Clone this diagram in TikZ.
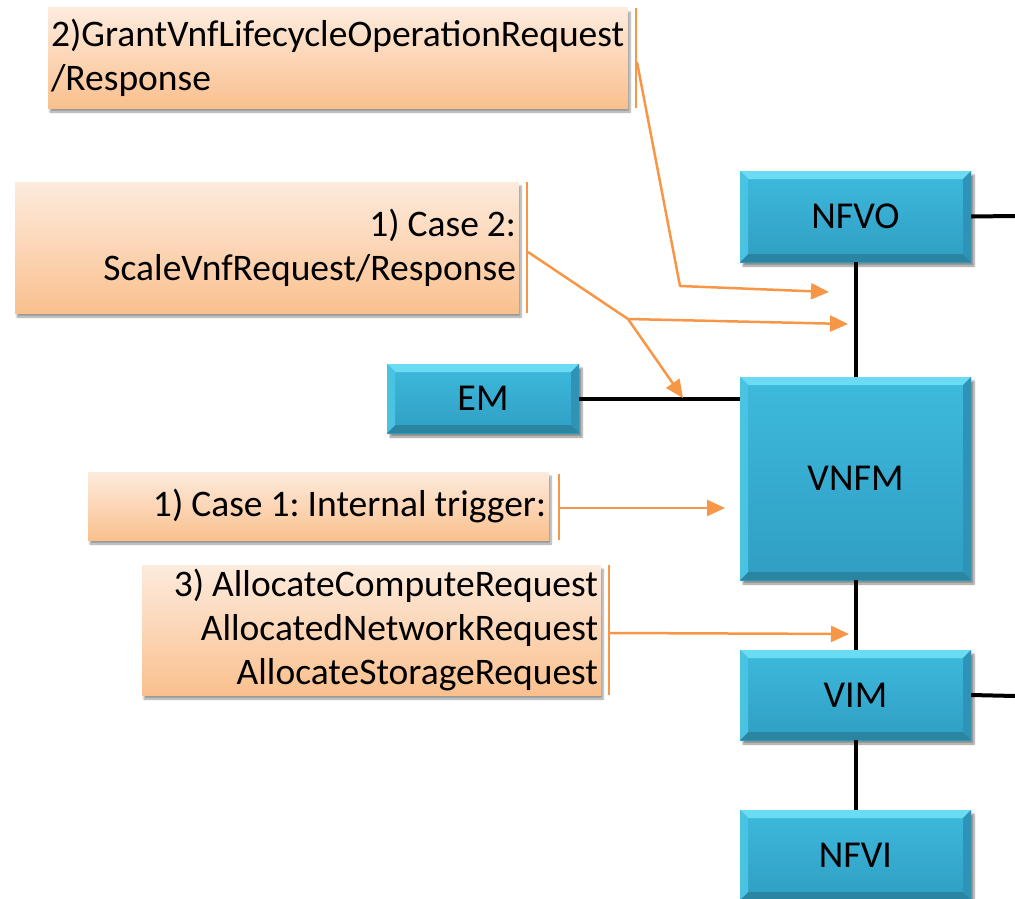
\documentclass[tikz,border=0pt]{standalone}
\usepackage{fontspec}
\setmainfont{Carlito}
\usetikzlibrary{arrows.meta,shadows.blur,calc}

\definecolor{orangec}{HTML}{F79646}
\definecolor{peachtop}{HTML}{FDEBDD}
\definecolor{peachbot}{HTML}{FAC08E}
\definecolor{facetop}{HTML}{3DBADD}
\definecolor{facebot}{HTML}{309EC3}
\definecolor{bevtop}{HTML}{6ADBF3}
\definecolor{bevleft}{HTML}{4AC3E2}
\definecolor{bevright}{HTML}{2F93B5}
\definecolor{bevbot}{HTML}{2A85A3}

% uniform word spacing in the notes
\newcommand\tightwords{\frenchspacing\spaceskip8pt plus 0pt minus 0pt\relax}

\tikzset{
  nfbox/.style={rectangle, inner sep=0pt, top color=facetop, bottom color=facebot,
    font=\fontsize{38}{44}\selectfont,
    blur shadow={shadow xshift=3pt, shadow yshift=-4pt, shadow blur steps=6, shadow opacity=45},
    path picture={
      \coordinate (bsw) at (path picture bounding box.south west);
      \coordinate (bne) at (path picture bounding box.north east);
      \coordinate (bnw) at (path picture bounding box.north west);
      \coordinate (bse) at (path picture bounding box.south east);
      \fill[bevtop] (bnw) -- (bne) -- ([shift={(-8pt,-8pt)}]bne) -- ([shift={(8pt,-8pt)}]bnw) -- cycle;
      \fill[bevbot] (bsw) -- (bse) -- ([shift={(-8pt,8pt)}]bse) -- ([shift={(8pt,8pt)}]bsw) -- cycle;
      \fill[bevleft] (bsw) -- (bnw) -- ([shift={(8pt,-8pt)}]bnw) -- ([shift={(8pt,8pt)}]bsw) -- cycle;
      \fill[bevright] (bse) -- (bne) -- ([shift={(-8pt,-8pt)}]bne) -- ([shift={(-8pt,8pt)}]bse) -- cycle;
    }},
  note/.style={rectangle, inner xsep=3pt, inner ysep=0pt, top color=peachtop, bottom color=peachbot,
    font=\fontsize{37.5}{44}\selectfont, execute at begin node=\tightwords,
    blur shadow={shadow xshift=2pt, shadow yshift=-4pt, shadow blur steps=6, shadow opacity=40}},
  bar/.style={draw=orangec, line width=2pt},
  flow/.style={draw=orangec, line width=2.5pt, line join=round, -{Triangle[length=18pt,width=16pt]}},
  link/.style={draw=black, line width=4pt}
}

\begin{document}
\begin{tikzpicture}[x=1pt,y=-1pt]
\useasboundingbox (0,0) rectangle (1015,899);

% network elements
\node[nfbox, minimum width=231pt, minimum height=91pt] (nfvo) at (855.5,216.5) {NFVO};
\node[nfbox, minimum width=192pt, minimum height=69pt] (em) at (483,398.5) {EM};
\node[nfbox, minimum width=231pt, minimum height=203pt] (vnfm) at (855.5,478.5) {VNFM};
\node[nfbox, minimum width=231pt, minimum height=90pt] (vim) at (855.5,695) {VIM};
\node[nfbox, minimum width=231pt, minimum height=90pt] (nfvi) at (855.5,855) {NFVI};

% reference-point links
\coordinate (nfvoR) at (1015,216);
\coordinate (vimR) at (1015,696);
\draw[link] (nfvo.east) -- (nfvoR);
\draw[link] (vim.east) -- (vimR);
\draw[link] (nfvo.south) -- (vnfm.north);
\draw[link] (vnfm.south) -- (vim.north);
\draw[link] (vim.south) -- (nfvi.north);
\draw[link] (em.east) -- (em.east -| vnfm.west);

% message notes
\node[note, minimum width=580pt, minimum height=100pt, text width=574pt, align=left] (n1) at (338,58)
  {2)GrantVnfLifecycleOperationRequest\\/Response};
\node[note, minimum width=504pt, minimum height=131pt, text width=498pt, align=right] (n2) at (267,247.5)
  {1) Case 2:\\ScaleVnfRequest/Response};
\node[note, minimum width=461pt, minimum height=68pt, text width=455pt, align=right] (n3) at (318.5,506)
  {1) Case 1: Internal trigger:};
\node[note, minimum width=459pt, minimum height=130pt, text width=453pt, align=right] (n4) at (371.5,630)
  {3) AllocateComputeRequest\\AllocatedNetworkRequest\\AllocateStorageRequest};

% callout bars
\coordinate (b1t) at (636,8);   \coordinate (b1b) at (636,108);
\coordinate (b2t) at (527,182); \coordinate (b2b) at (527,313);
\coordinate (b3t) at (559,474); \coordinate (b3b) at (559,540);
\coordinate (b4t) at (609,565); \coordinate (b4b) at (609,695);
\draw[bar] (b1t) -- (b1b);
\draw[bar] (b2t) -- (b2b);
\draw[bar] (b3t) -- (b3b);
\draw[bar] (b4t) -- (b4b);

% message arrows
\coordinate (s1) at (637,62);  \coordinate (k1) at (680,286); \coordinate (t1) at (829,292);
\coordinate (s2) at (528,252); \coordinate (k2) at (628,319); \coordinate (t2a) at (848,324);
\coordinate (t2b) at (683,398);
\coordinate (s3) at (560,508); \coordinate (t3) at (725,508);
\coordinate (s4) at (610,633); \coordinate (t4) at (849,634);
\draw[flow] (s1) -- (k1) -- (t1);
\draw[flow] (s2) -- (k2) -- (t2a);
\draw[flow] (k2) -- (t2b);
\draw[flow] (s3) -- (t3);
\draw[flow] (s4) -- (t4);
\end{tikzpicture}
\end{document}
